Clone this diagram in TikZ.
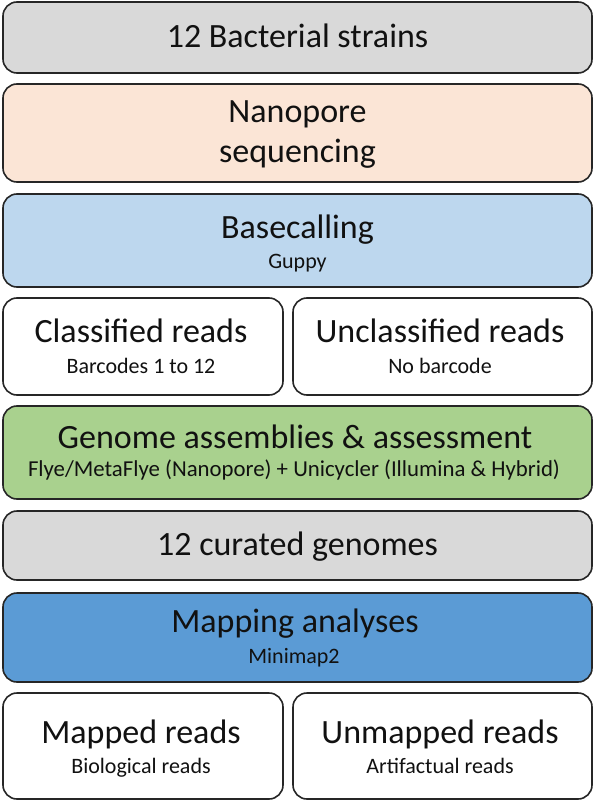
\documentclass[tikz,border=0pt]{standalone}
\usepackage{fontspec}
\setmainfont{Carlito}
\definecolor{bordc}{HTML}{262626}
\definecolor{grayc}{HTML}{D9D9D9}
\definecolor{peachc}{HTML}{FBE5D6}
\definecolor{lblue}{HTML}{BDD7EE}
\definecolor{greenc}{HTML}{A9D18E}
\definecolor{bluec}{HTML}{5B9BD5}
\definecolor{textc}{HTML}{111111}
\begin{document}
\begin{tikzpicture}[x=1pt,y=-1pt,
  box/.style={draw=bordc, line width=1.6pt, rounded corners=14pt, inner sep=0pt},
  full/.style={box, minimum width=589pt},
  leftb/.style={box, minimum width=280pt},
  rightb/.style={box, minimum width=299pt},
  maint/.style={anchor=base, inner sep=0pt, text=textc, font=\fontsize{34}{40}\selectfont},
  subt/.style={anchor=base, inner sep=0pt, text=textc, font=\fontsize{22}{26}\selectfont}]
\useasboundingbox (0,0) rectangle (595,802);
% boxes
\node[full, fill=grayc, minimum height=71pt] (b1) at (297.5,37.5) {};
\node[full, fill=peachc, minimum height=98pt] (b2) at (297.5,133) {};
\node[full, fill=lblue, minimum height=93pt] (b3) at (297.5,240.5) {};
\node[leftb, fill=white, minimum height=97pt] (b4l) at (143,346.5) {};
\node[rightb, fill=white, minimum height=97pt] (b4r) at (442.5,346.5) {};
\node[full, fill=greenc, minimum height=93pt] (b5) at (297.5,452.5) {};
\node[full, fill=grayc, minimum height=69pt] (b6) at (297.5,545.5) {};
\node[full, fill=bluec, minimum height=89pt] (b7) at (297.5,637.5) {};
\node[leftb, fill=white, minimum height=106pt] (b8l) at (143,746) {};
\node[rightb, fill=white, minimum height=106pt] (b8r) at (442.5,746) {};
% texts
\node[maint] (t1) at (297.5,48) {12 Bacterial strains};
\node[maint] (t2a) at (297.5,123) {Nanopore};
\node[maint] (t2b) at (297.5,163) {sequencing};
\node[maint] (t3) at (297.5,238) {Basecalling};
\node[subt] (t3s) at (297.5,268) {Guppy};
\node[maint] (t4l) at (141,342) {Classified reads};
\node[subt] (t4ls) at (141,373) {Barcodes 1 to 12};
\node[maint] (t4r) at (440,342) {Unclassified reads};
\node[subt] (t4rs) at (440,373) {No barcode};
\node[maint] (t5) at (295,448) {Genome assemblies \& assessment};
\node[subt, font=\fontsize{22.8}{27}\selectfont] (t5s) at (294,476) {Flye/MetaFlye (Nanopore) + Unicycler (Illumina \& Hybrid)};
\node[maint] (t6) at (297.5,555) {12 curated genomes};
\node[maint] (t7) at (295,632) {Mapping analyses};
\node[subt] (t7s) at (294,663) {Minimap2};
\node[maint] (t8l) at (141,743) {Mapped reads};
\node[subt] (t8ls) at (141,773) {Biological reads};
\node[maint] (t8r) at (440,743) {Unmapped reads};
\node[subt] (t8rs) at (440,773) {Artifactual reads};
\end{tikzpicture}
\end{document}
